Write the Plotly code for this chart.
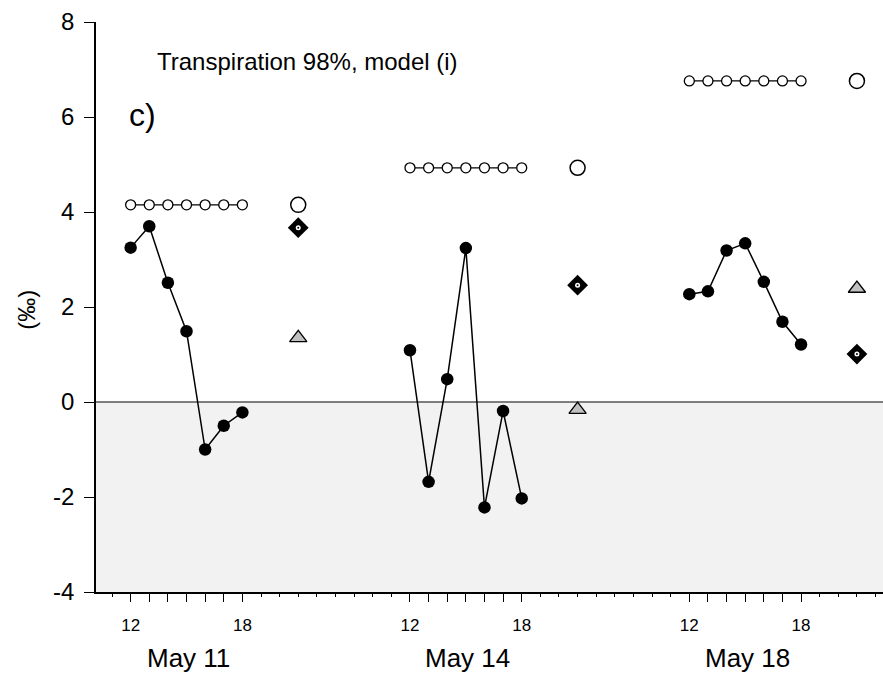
import plotly.graph_objects as go

# ---- data ----
days = ["May 11", "May 14", "May 18"]
day_offsets = [0, 15, 30]          # axis units per day block (hours)
hours = [12, 13, 14, 15, 16, 17, 18]
extra_hour = 21                     # position of summary markers in each block

filled = {
    "May 11": [3.25, 3.70, 2.51, 1.49, -1.00, -0.50, -0.22],
    "May 14": [1.09, -1.68, 0.48, 3.24, -2.22, -0.19, -2.03],
    "May 18": [2.27, 2.33, 3.19, 3.34, 2.53, 1.69, 1.21],
}
open_level = [4.15, 4.93, 6.76]
diamond_vals = [3.67, 2.46, 1.01]
triangle_vals = [1.35, -0.16, 2.39]

y_ticks = [-4, -2, 0, 2, 4, 6, 8]
y_ticktext = ["-4", "-2", "0", "2", "4", "6", "8"]
hour_labels = {12: "12", 18: "18"}

FONT = "Arial, Liberation Sans, sans-serif"

fig = go.Figure()

for d, off, lvl, dv, tv in zip(days, day_offsets, open_level, diamond_vals, triangle_vals):
    xs = [off + h for h in hours]
    xe = off + extra_hour
    # open circles (constant level)
    fig.add_trace(go.Scatter(
        x=xs, y=[lvl] * len(xs), mode="lines+markers",
        line=dict(color="black", width=1.3),
        marker=dict(symbol="circle", size=10, color="white",
                    line=dict(color="black", width=1.3)),
        showlegend=False, hoverinfo="skip"))
    # filled circles
    fig.add_trace(go.Scatter(
        x=xs, y=filled[d], mode="lines+markers",
        line=dict(color="black", width=1.5),
        marker=dict(symbol="circle", size=12.5, color="black"),
        showlegend=False))
    # large open circle
    fig.add_trace(go.Scatter(
        x=[xe], y=[lvl], mode="markers",
        marker=dict(symbol="circle", size=15, color="white",
                    line=dict(color="black", width=1.5)),
        showlegend=False))
    # diamond with dot
    fig.add_trace(go.Scatter(
        x=[xe], y=[dv], mode="markers",
        marker=dict(symbol="diamond", size=16, color="black"),
        showlegend=False))
    fig.add_trace(go.Scatter(
        x=[xe], y=[dv], mode="markers",
        marker=dict(symbol="circle", size=5, color="white"),
        showlegend=False, hoverinfo="skip"))
    fig.add_trace(go.Scatter(
        x=[xe], y=[dv], mode="markers",
        marker=dict(symbol="circle", size=2, color="black"),
        showlegend=False, hoverinfo="skip"))
    # triangle
    fig.add_trace(go.Scatter(
        x=[xe], y=[tv], mode="markers",
        marker=dict(symbol="triangle-up", size=15, color="#c0c0c0",
                    line=dict(color="black", width=1.3)),
        showlegend=False))

# tick positions
tickvals, ticktext = [], []
for off in day_offsets:
    for h in hours:
        tickvals.append(off + h)
        ticktext.append(hour_labels.get(h, ""))
minor_vals = [v for v in range(11, 53) if v not in tickvals]

# negative region shading
fig.add_shape(type="rect", xref="paper", x0=0, x1=1, yref="y", y0=-4, y1=0,
              fillcolor="#f2f2f2", line=dict(width=0), layer="below")
fig.add_shape(type="line", xref="paper", x0=0, x1=1, yref="y", y0=0, y1=0,
              line=dict(color="#555555", width=1.5), layer="below")

# day labels
for d, off in zip(days, day_offsets):
    fig.add_annotation(x=off + 15, xref="x", y=0, yref="paper",
                       text=d, showarrow=False, yanchor="middle",
                       yshift=-66, xshift=2,
                       font=dict(family=FONT, size=26, color="black"))

fig.add_annotation(x=0, xref="paper", xshift=-69, xanchor="center",
                   y=1.94, yref="y", yanchor="middle",
                   text="(‰)", textangle=-90, showarrow=False,
                   font=dict(family=FONT, size=24, color="black"))
fig.add_annotation(x=13.3, xref="x", y=7.17, yref="y", xanchor="left",
                   text="Transpiration 98%, model (i)", showarrow=False,
                   font=dict(family=FONT, size=24, color="black"))
fig.add_annotation(x=11.8, xref="x", y=6.05, yref="y", xanchor="left",
                   text="c)", showarrow=False,
                   font=dict(family=FONT, size=32, color="black"))

fig.update_layout(
    width=883, height=675,
    margin=dict(l=96, r=0, t=22, b=83),
    paper_bgcolor="white", plot_bgcolor="white",
    font=dict(family=FONT, color="black"),
    showlegend=False,
    xaxis=dict(range=[10.14, 52.4], showgrid=False, zeroline=False,
               showline=True, linecolor="black", linewidth=1.5,
               tickmode="array", tickvals=tickvals, ticktext=ticktext,
               ticks="outside", ticklen=8, tickwidth=1.2, tickcolor="black",
               ticklabelstandoff=9,
               tickfont=dict(family=FONT, size=17, color="black"),
               minor=dict(tickmode="array", tickvals=minor_vals,
                          ticks="outside", ticklen=3, tickwidth=1,
                          tickcolor="black", showgrid=False)),
    yaxis=dict(range=[-4, 8], showgrid=False, zeroline=False,
               showline=True, linecolor="black", linewidth=1.5,
               tickmode="array", tickvals=y_ticks, ticktext=y_ticktext,
               ticks="outside", ticklen=10, tickwidth=1.2, tickcolor="black",
               ticklabelstandoff=5,
               tickfont=dict(family=FONT, size=24, color="black")),
)

fig.write_html("out.html")
